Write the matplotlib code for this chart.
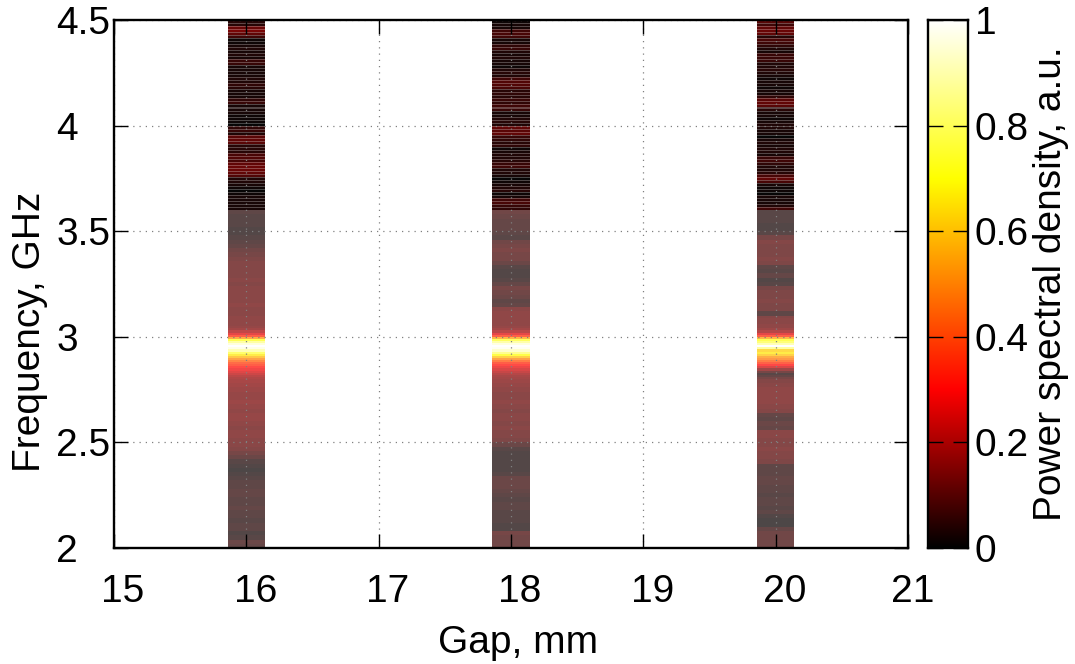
import numpy as np
import matplotlib
matplotlib.use('Agg')
import matplotlib.pyplot as plt
from matplotlib.colors import LinearSegmentedColormap
from matplotlib.transforms import ScaledTranslation

plt.rcParams['font.family'] = ['Liberation Sans', 'DejaVu Sans']

gaps = [16, 18, 20]

# 2.00-2.80 GHz
low_16 = [.05,.06,.03,.02,.04,.04,.03,.04,.04,.05,.04,.04,.05,.05,.04,.04,.03,.02,.01,.02,
          .03,.06,.08,.10,.11,.11,.12,.12,.11,.12,.13,.13,.12,.13,.14,.13,.13,.14,.15,.16]
low_18 = [.07,.07,.07,.08,.02,.02,.03,.03,.03,.04,.04,.03,.04,.05,.06,.06,.06,.03,.02,.02,
          .02,.02,.02,.03,.06,.09,.10,.10,.11,.10,.11,.11,.10,.11,.12,.11,.11,.12,.13,.14]
low_20 = [.07,.07,.07,.07,.05,.01,.01,.02,.04,.03,.04,.04,.03,.04,.04,.05,.05,.04,.04,.04,
          .09,.10,.10,.11,.10,.10,.11,.11,.05,.06,.04,.05,.10,.11,.12,.12,.12,.12,.11,.10]
# 2.80-3.10 GHz
peak_16 = [.17,.19,.22,.25,.28,.31,.35,.38,.44,.50,.58,.66,.76,.88,.96,1.0,.94,.85,.72,.52,
           .35,.26,.20,.15,.13,.12,.12,.12,.12,.12]
peak_18 = [.15,.16,.18,.21,.24,.27,.31,.35,.42,.50,.60,.70,.82,.92,.98,1.0,.95,.86,.74,.55,
           .36,.26,.19,.15,.13,.12,.12,.12,.12,.12]
peak_20 = [.08,.05,.03,.08,.15,.24,.30,.36,.42,.48,.52,.60,.66,.62,.85,1.0,.88,.78,.72,.55,
           .36,.26,.18,.14,.12,.12,.11,.11,.11,.10]
# 3.10-3.60 GHz
high_16 = [.11,.11,.12,.11,.11,.11,.11,.10,.11,.10,.10,.10,.10,.09,.08,.07,.05,.04,.03,.02,
           .02,.03,.03,.03,.04]
high_18 = [.12,.11,.05,.04,.06,.07,.08,.05,.03,.02,.02,.03,.06,.08,.08,.09,.08,.07,.03,.04,
           .05,.05,.05,.06,.07]
high_20 = [.04,.09,.09,.10,.09,.09,.08,.03,.02,.05,.03,.04,.09,.10,.09,.09,.09,.10,.08,.03,
           .02,.02,.03,.03,.03]
# 3.60-4.50 GHz, listed from the top row down
top_16 = [.04,.04,.12,.14,.11,.07,.01,.01,.02,.03,.02,.03,.02,.06,.06,.02,.02,.02,.02,.03,
          .03,.05,.04,.02,.02,.02,.05,.06,.02,.02,.02,.01,.01,.01,.00,.05,.06,.03,.10,.11,
          .10,.04,.04,.04,.08,.09,.08,.11,.12,.12,.11,.09,.03,.03,.02,.01,.00,.01,.02,.02,
          .02,.02,.02]
top_18 = [.01,.02,.02,.07,.08,.07,.02,.02,.05,.06,.03,.02,.03,.02,.02,.01,.03,.04,.03,.07,
          .09,.09,.08,.04,.05,.04,.06,.05,.07,.06,.02,.02,.03,.04,.03,.11,.10,.11,.06,.05,
          .04,.05,.01,.02,.03,.03,.04,.06,.07,.03,.03,.02,.00,.01,.02,.03,.04,.01,.02,.07,
          .08,.06,.05]
top_20 = [.10,.07,.11,.12,.11,.04,.08,.07,.05,.03,.02,.06,.06,.06,.03,.03,.04,.03,.02,.01,
          .02,.02,.01,.02,.02,.05,.10,.11,.10,.04,.02,.02,.01,.02,.03,.03,.02,.02,.00,.02,
          .03,.02,.03,.03,.02,.06,.07,.05,.03,.03,.04,.08,.11,.08,.02,.01,.01,.00,.02,.02,
          .02,.03,.07]

x_ticks = [15, 16, 17, 18, 19, 20, 21]
y_ticks = [2, 2.5, 3, 3.5, 4, 4.5]
y_labels = ['2', '2.5', '3', '3.5', '4', '4.5']
c_ticks = [0, .2, .4, .6, .8, 1]
c_labels = ['0', '0.2', '0.4', '0.6', '0.8', '1']

hot = LinearSegmentedColormap.from_list(
    'hot2', [(0, (0, 0, 0)), (.3, (1, 0, 0)), (.7, (1, 1, 0)), (1, (1, 1, 1))], N=512)

W, H = 1075, 664
FS = 28
fig = plt.figure(figsize=(W / 100, H / 100), dpi=100)
L, R, T, B = 114, 908, 20, 548
ax = fig.add_axes([L / W, 1 - B / H, (R - L) / W, (B - T) / H])
half = 0.14

lows = [low_16, low_18, low_20]
peaks = [peak_16, peak_18, peak_20]
highs = [high_16, high_18, high_20]
tops = [top_16, top_18, top_20]
for g, lo, pk, hi, tp in zip(gaps, lows, peaks, highs, tops):
    tp_up = tp[::-1]
    edges = np.concatenate([
        np.linspace(2.0, 2.8, len(lo) + 1)[:-1],
        np.linspace(2.8, 3.1, len(pk) + 1)[:-1],
        np.linspace(3.1, 3.6, len(hi) + 1)[:-1],
        np.linspace(3.6, 4.5, len(tp_up) + 1)])
    vals = np.array(lo + pk + hi + tp_up)[:, None]
    ax.pcolormesh([g - half, g + half], edges, vals, cmap=hot, vmin=0, vmax=1,
                  alpha=0.72, antialiased=False, linewidth=0, zorder=1)
    tp_edges = np.linspace(3.6, 4.5, len(tp_up) + 1)
    ax.hlines(tp_edges[:-1] + 0.0048, g - half, g + half, colors=hot(np.array(tp_up)),
              linewidth=1.3, zorder=1.5)

ax.set_xlim(15, 21)
ax.set_ylim(2, 4.5)
ax.set_xticks(x_ticks)
ax.set_yticks(y_ticks, y_labels)
ax.grid(True, color='#808080', linestyle=(0, (1, 4)), linewidth=0.9, zorder=2)
ax.set_axisbelow(False)
ax.tick_params(direction='in', length=10, width=1.0, top=True, right=True,
               labelsize=FS, color='black')
ax.tick_params(axis='x', pad=18.5)
ax.tick_params(axis='y', pad=41.5)
for lab in ax.get_yticklabels():
    lab.set_ha('left')
for tick_val, lab in zip(x_ticks, ax.get_xticklabels()):
    dx = 5 if tick_val == x_ticks[-1] else 9
    lab.set_transform(lab.get_transform() + ScaledTranslation(dx / 100, 0, fig.dpi_scale_trans))
for s in ax.spines.values():
    s.set_linewidth(1.7)
    s.set_zorder(5)
ax.set_xlabel('Gap, mm', fontsize=FS)
ax.xaxis.set_label_coords((518 - L) / (R - L), -(625 - B) / (B - T))
ax.set_ylabel('Frequency, GHz', fontsize=FS)
ax.yaxis.set_label_coords((48 - L) / (R - L), (B - 332) / (B - T))

CL, CR = 928, 968
cax = fig.add_axes([CL / W, 1 - B / H, (CR - CL) / W, (B - T) / H])
grad = np.linspace(0, 1, 512)[:, None]
cax.imshow(grad, origin='lower', aspect='auto', cmap=hot, extent=[0, 1, 0, 1], zorder=1)
cax.set_xticks([])
cax.set_yticks(c_ticks, c_labels)
cax.yaxis.tick_right()
cax.tick_params(axis='y', direction='in', length=10.5, width=1.0, left=True, right=True,
                labelleft=False, labelright=True, labelsize=FS, pad=5)
for s in cax.spines.values():
    s.set_linewidth(1.7)
cax.yaxis.set_label_position('right')
cax.set_ylabel('Power spectral density, a.u.', fontsize=FS, rotation=90, labelpad=3)

fig.savefig('out.png', dpi=100)
